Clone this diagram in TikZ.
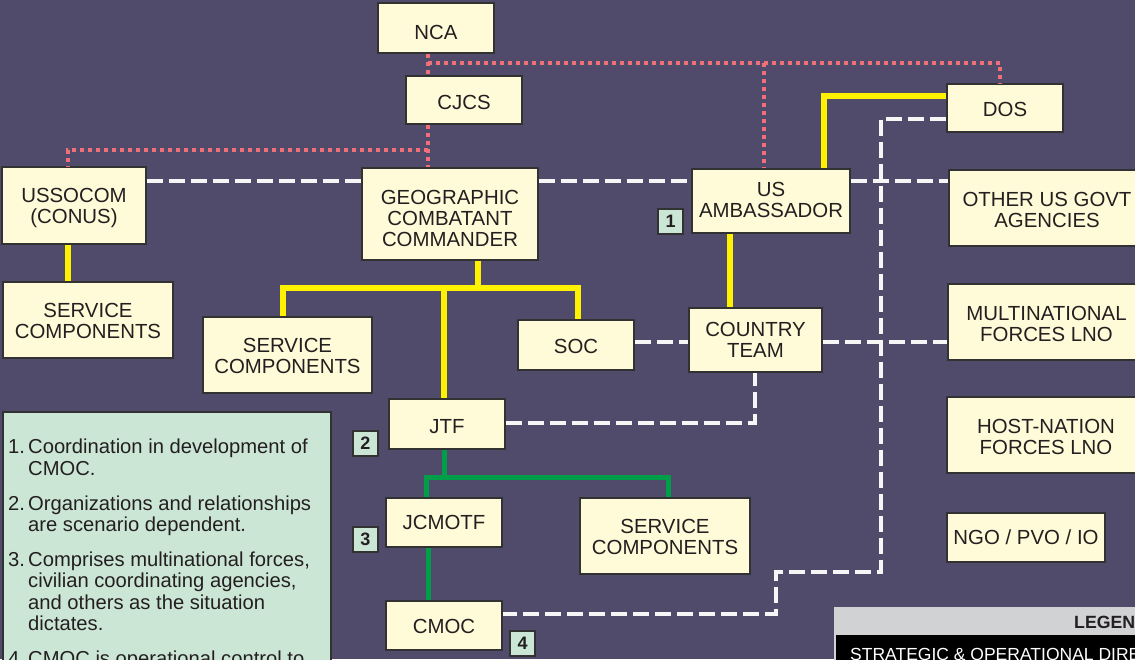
\documentclass[tikz,border=0pt]{standalone}
\usepackage{fontspec}
\setmainfont{Liberation Sans}
\definecolor{bgc}{RGB}{80,75,106}
\definecolor{boxfill}{RGB}{255,251,216}
\definecolor{boxline}{RGB}{50,50,50}
\definecolor{txt}{RGB}{35,31,32}
\definecolor{notegreen}{RGB}{204,230,214}
\definecolor{yel}{RGB}{255,242,0}
\definecolor{grn}{RGB}{0,158,73}
\definecolor{pnk}{RGB}{240,112,122}
\definecolor{wht}{RGB}{246,246,246}
\definecolor{leggray}{RGB}{209,210,212}
\begin{document}
\begin{tikzpicture}[x=1pt,y=-1pt,
  box/.style={draw=boxline, line width=1.2pt, fill=boxfill, inner sep=0pt, align=center,
    text=txt, font=\fontsize{20.4}{21}\selectfont},
  numbox/.style={draw=boxline, line width=1.2pt, fill=notegreen, inner sep=0pt,
    minimum width=25pt, minimum height=25pt, text=txt, font=\fontsize{18}{18}\selectfont\bfseries},
  yline/.style={draw=yel, line width=5.5pt},
  gline/.style={draw=grn, line width=5pt},
  wdash/.style={draw=wht, line width=3.8pt, dash pattern=on 16pt off 6pt},
  pdot/.style={draw=pnk, line width=4pt, dash pattern=on 4pt off 4pt}]
\useasboundingbox (0,0) rectangle (1135,659);
\fill[bgc] (0,0) rectangle (1135,659);

% pink dotted coordinates
\coordinate (p1) at (428,63);
\coordinate (p2) at (764,63);
\coordinate (p3) at (1000,63);
\coordinate (p4) at (428,150);
\coordinate (p5) at (68,150);
% yellow / green coordinates
\coordinate (y1) at (824,96);
\coordinate (y2) at (478,288);
\coordinate (y3) at (283,288);
\coordinate (y4) at (578,288);
\coordinate (y5) at (444,288);
\coordinate (g1) at (444,477);
\coordinate (g2) at (426,477);
\coordinate (g3) at (668,477);
% white dashed coordinates
\coordinate (w1) at (881,119);
\coordinate (w2) at (881,572);
\coordinate (w3) at (776,572);
\coordinate (w4) at (776,614);
\coordinate (w5) at (755,423);

% nodes
\node[box, text height=22.8pt, minimum width=116pt, minimum height=50pt] (nca) at (436,28) {NCA};
\node[box, text height=18.8pt, minimum width=116pt, minimum height=48pt] (cjcs) at (464,100) {CJCS};
\node[box, text height=16.8pt, minimum width=116pt, minimum height=48pt] (dos) at (1005,108) {DOS};
\node[box, text height=40.8pt, minimum width=144pt, minimum height=77pt] (ussocom) at (74,205.5) {USSOCOM\\(CONUS)};
\node[box, text height=64.8pt, minimum width=176pt, minimum height=92pt] (gcc) at (450,214) {GEOGRAPHIC\\COMBATANT\\COMMANDER};
\node[box, text height=32.8pt, minimum width=158pt, minimum height=64pt] (usamb) at (771,201) {US\\AMBASSADOR};
\node[box, text height=39.8pt, minimum width=196pt, minimum height=76pt] (other) at (1047,208) {OTHER US GOVT\\AGENCIES};
\node[box, text height=36.8pt, minimum width=170pt, minimum height=76pt] (sc1) at (88,320) {SERVICE\\COMPONENTS};
\node[box, text height=37.8pt, minimum width=169pt, minimum height=76pt] (sc2) at (287.5,355) {SERVICE\\COMPONENTS};
\node[box, text height=16.8pt, minimum width=116pt, minimum height=50pt] (soc) at (576,345) {SOC};
\node[box, text height=35.8pt, minimum width=133pt, minimum height=64pt] (ct) at (755.5,340) {COUNTRY\\TEAM};
\node[box, text height=39.8pt, minimum width=197pt, minimum height=76pt] (mnf) at (1046.5,322) {MULTINATIONAL\\FORCES LNO};
\node[box, text height=18.8pt, minimum width=116pt, minimum height=50pt] (jtf) at (447,424) {JTF};
\node[box, text height=39.8pt, minimum width=198pt, minimum height=76pt] (hn) at (1046,435) {HOST-NATION\\FORCES LNO};
\node[box, text height=14.8pt, minimum width=116pt, minimum height=49pt] (jcmotf) at (444,522.5) {JCMOTF};
\node[box, text height=37.8pt, minimum width=170pt, minimum height=76pt] (sc3) at (665,536) {SERVICE\\COMPONENTS};
\node[box, minimum width=158pt, minimum height=49pt] (ngo) at (1026,537.5) {NGO / PVO / IO};
\node[box, text height=16.8pt, minimum width=116pt, minimum height=49pt] (cmoc) at (444,625.5) {CMOC};

% pink dotted connectors
\draw[pdot] (nca.south -| p1) -- (cjcs.north -| p1);
\draw[pdot] (p1) -- (p3) -- (p3 |- dos.north);
\draw[pdot] (p2) -- (p2 |- usamb.north);
\draw[pdot] (cjcs.south -| p1) -- (gcc.north -| p1);
\draw[pdot] (p4) -- (p5) -- (p5 |- ussocom.north);

% yellow connectors
\draw[yline] (y1 -| dos.west) -- (y1) -- (y1 |- usamb.north);
\draw[yline] (usamb.south -| 730,0) -- (ct.north -| 730,0);
\draw[yline] (ussocom.south -| p5) -- (sc1.north -| p5);
\draw[yline] (gcc.south -| y2) -- (y2);
\draw[yline] (y3 |- sc2.north) -- (y3) -- (y4) -- (y4 |- soc.north);
\draw[yline] (y5) -- (y5 |- jtf.north);

% green connectors
\draw[gline] (jtf.south -| g1) -- (g1);
\draw[gline] (g2 |- jcmotf.north) -- (g2) -- (g3) -- (g3 |- sc3.north);
\draw[gline] (jcmotf.south -| 428,0) -- (cmoc.north -| 428,0);

% white dashed connectors
\draw[wdash] (ussocom.east |- 0,181) -- (gcc.west |- 0,181);
\draw[wdash] (gcc.east |- 0,181) -- (usamb.west |- 0,181);
\draw[wdash] (usamb.east |- 0,181) -- (other.west |- 0,181);
\draw[wdash] (soc.east |- 0,342) -- (ct.west |- 0,342);
\draw[wdash] (ct.east |- 0,342) -- (mnf.west |- 0,342);
\draw[wdash] (w1 -| dos.west) -- (w1) -- (w2) -- (w3) -- (w4) -- (w4 -| cmoc.east);
\draw[wdash] (w5 -| jtf.east) -- (w5) -- (w5 |- ct.south);

% number boxes
\node[numbox] (n1) at (670.5,221.5) {1};
\node[numbox] (n2) at (365.5,443.5) {2};
\node[numbox] (n3) at (365.5,539.5) {3};
\node[numbox] (n4) at (522.5,643.5) {4};

% notes panel
\node[draw=boxline, line width=1.2pt, fill=notegreen, minimum width=328pt, minimum height=290pt, inner sep=0pt] (panel) at (167,557) {};
\node[anchor=north west, align=left, inner sep=0pt, text=txt, font=\fontsize{20.2}{21.4}\selectfont] (notes) at (8,439)
{\makebox[20pt][l]{1.}Coordination in development of\\
 \hspace*{20pt}CMOC.\\[13.4pt]
 \makebox[20pt][l]{2.}Organizations and relationships\\
 \hspace*{20pt}are scenario dependent.\\[13.4pt]
 \makebox[20pt][l]{3.}Comprises multinational forces,\\
 \hspace*{20pt}civilian coordinating agencies,\\
 \hspace*{20pt}and others as the situation\\
 \hspace*{20pt}dictates.\\[13.4pt]
 \makebox[20pt][l]{4.}CMOC is operational control to};

% legend
\fill[leggray] (834,607) rectangle (1140,700);
\fill[black] (836,635) rectangle (1140,700);
\node[anchor=base west, inner sep=0pt, text=txt, font=\fontsize{17.7}{18}\selectfont\bfseries] (legt) at (1074,628.5) {LEGEND};
\node[anchor=base west, inner sep=0pt, text=white, font=\fontsize{17.5}{18}\selectfont] (leg1) at (850,660) {STRATEGIC \& OPERATIONAL DIRECTION};
\end{tikzpicture}
\end{document}
